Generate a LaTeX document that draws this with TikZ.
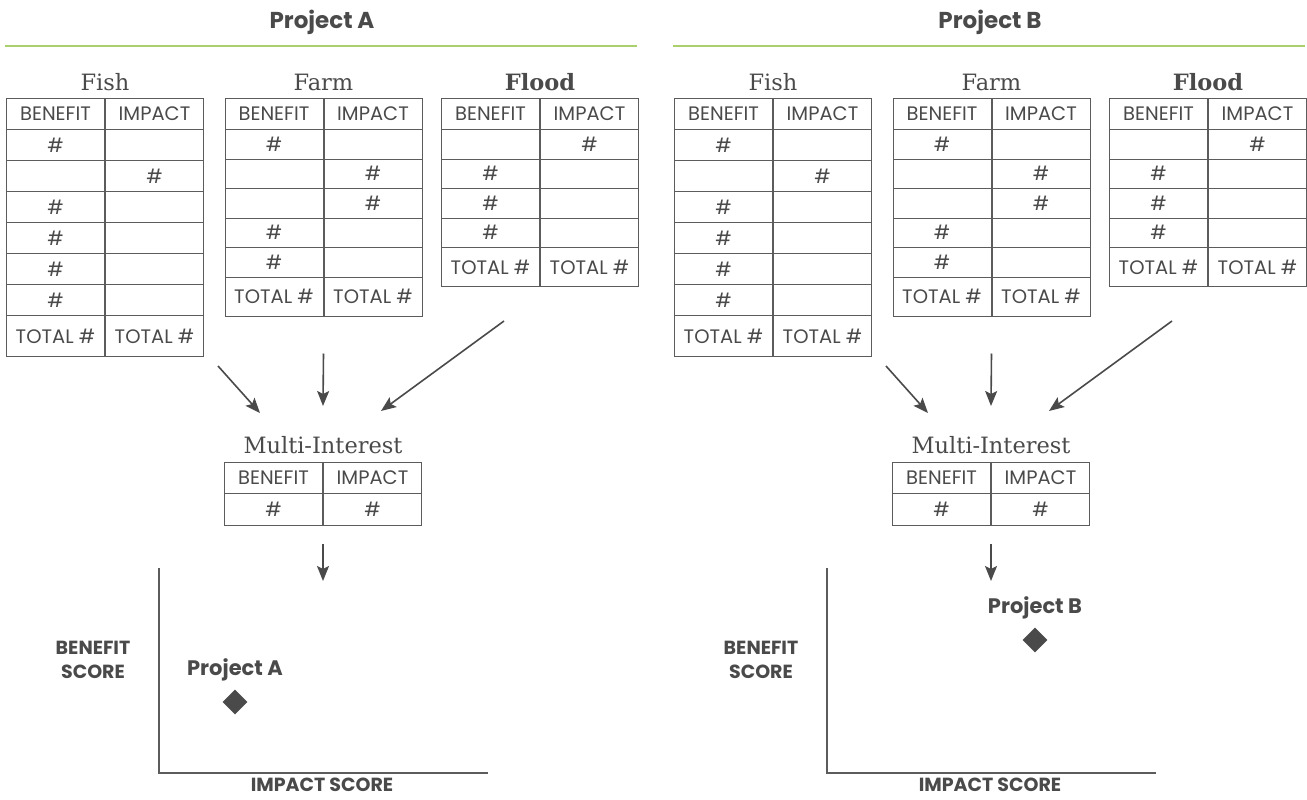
\documentclass[tikz,border=0pt]{standalone}
\usepackage{fontspec}
\setsansfont{Poppins}
\newfontfamily\titlefont{DejaVu Serif}
\usetikzlibrary{positioning,arrows.meta,shapes.geometric}
\definecolor{ink}{HTML}{4A4A4A}
\definecolor{grid}{HTML}{5C5C5C}
\definecolor{rulegreen}{HTML}{A9D06C}
\tikzset{
  cell/.style={draw=grid, line width=1pt, minimum width=98pt, inner sep=0pt, text=ink,
    font=\sffamily\fontsize{19.5}{19.5}\selectfont},
  score table/.pic={
    \tikzset{/scoretable/.cd, #1}
    \node [cell, minimum height=31pt, anchor=north east] (-hb) at (0,0) {BENEFIT};
    \node [cell, minimum height=31pt, anchor=north west] (-hi) at (0,0) {IMPACT};
    \foreach \code [count=\row] in \tabrows {
      \pgfmathsetmacro\rowh{\code==2 ? \tabtotalh : \tabrowh}
      \pgfmathsetmacro\rowy{31+(\row-1)*\tabrowh}
      \node [cell, minimum height=\rowh pt, anchor=north east] (-b\row) at (0,\rowy)
        {\ifnum\code=2 TOTAL \#\else\ifnum\code<1 \#\fi\fi};
      \node [cell, minimum height=\rowh pt, anchor=north west] (-i\row) at (0,\rowy)
        {\ifnum\code=2 TOTAL \#\else\ifnum\code>-1 \#\fi\fi};
    }
  },
  /scoretable/.search also={/tikz},
  /scoretable/.cd,
  rows/.store in=\tabrows,
  row height/.store in=\tabrowh,
  total height/.store in=\tabtotalh,
  rows={0},
  row height=30,
  total height=40,
}
\tikzset{
  head/.style={text=ink, font=\sffamily\bfseries\fontsize{23}{23}\selectfont},
  rule/.style={draw=rulegreen, line width=2pt},
  title/.style={text=ink, anchor=base, inner sep=0pt, font=\titlefont\fontsize{22.5}{22.5}\selectfont},
  flow/.style={draw=ink, line width=1.6pt, -{Stealth[length=15pt,width=12pt,inset=3pt]}},
  axis/.style={draw=grid, line width=1.2pt},
  axis label/.style={text=ink, align=center, font=\sffamily\bfseries\fontsize{19}{24}\selectfont},
  spot/.style={diamond, fill=ink, minimum width=25pt, minimum height=25pt, inner sep=0pt},
  spot label/.style={text=ink, inner sep=0pt, font=\sffamily\bfseries\fontsize{21}{21}\selectfont},
}
\begin{document}
\begin{tikzpicture}[x=1pt, y=-1pt]
  \useasboundingbox (0,0) rectangle (1307,800);
  % one panel per project: shift, then where the project sits on the chart
  \foreach \p/\dx/\mx/\my in {A/0/235/702, B/668/367/640} {
    \begin{scope}[xshift=\dx pt]
      \node [head] (proj\p) at (322,22) {Project \p};
      \draw [rule] (5,46) -- (637,46);

      \pic (fish\p) at (105,98) {score table={rows={-1,1,-1,-1,-1,-1,2}, row height=31, total height=41}};
      \pic (farm\p) at (323.5,98) {score table={rows={-1,1,1,-1,-1,2}, row height=29.5, total height=39}};
      \pic (flood\p) at (540,98) {score table={rows={1,-1,-1,-1,2}, row height=29.5, total height=39}};
      \pic (multi\p) at (323,462) {score table={rows={0}, row height=32}};

      \node [title] (fishT\p) at ([yshift=8pt]fish\p-hb.north east) {Fish};
      \node [title] (farmT\p) at ([yshift=8pt]farm\p-hb.north east) {Farm};
      \node [title, font=\titlefont\bfseries\fontsize{22.5}{22.5}\selectfont] (floodT\p) at ([yshift=8pt]flood\p-hb.north east) {Flood};
      \node [title] (multiT\p) at ([yshift=9pt]multi\p-hb.north east) {Multi-Interest};

      \draw [flow] ([shift={(14,9)}]fish\p-i7.south east) -- ([shift={(-63,-49)}]multi\p-hb.north east);
      \draw [flow] ([shift={(0,37)}]farm\p-b6.south east) -- ([shift={(0,-56)}]multi\p-hb.north east);
      \draw [flow] ([shift={(63,34)}]flood\p-b5.south west) -- ([shift={(58,-51)}]multi\p-hb.north east);
      \draw [flow] ([shift={(0,18)}]multi\p-b1.south east) -- ([shift={(0,55)}]multi\p-b1.south east);

      % chart
      \coordinate (ytop\p) at (159,568);
      \coordinate (xend\p) at (488,773);
      \draw [axis] (ytop\p) |- (xend\p);
      \node [axis label] (bscore\p) at (93,660) {BENEFIT\\SCORE};
      \node [axis label] (iscore\p) at (322,785) {IMPACT SCORE};
      \node [spot] (dot\p) at (\mx,\my) {};
      \node [spot label, above=8pt of dot\p] (dotT\p) {Project \p};
    \end{scope}
  }
\end{tikzpicture}
\end{document}
